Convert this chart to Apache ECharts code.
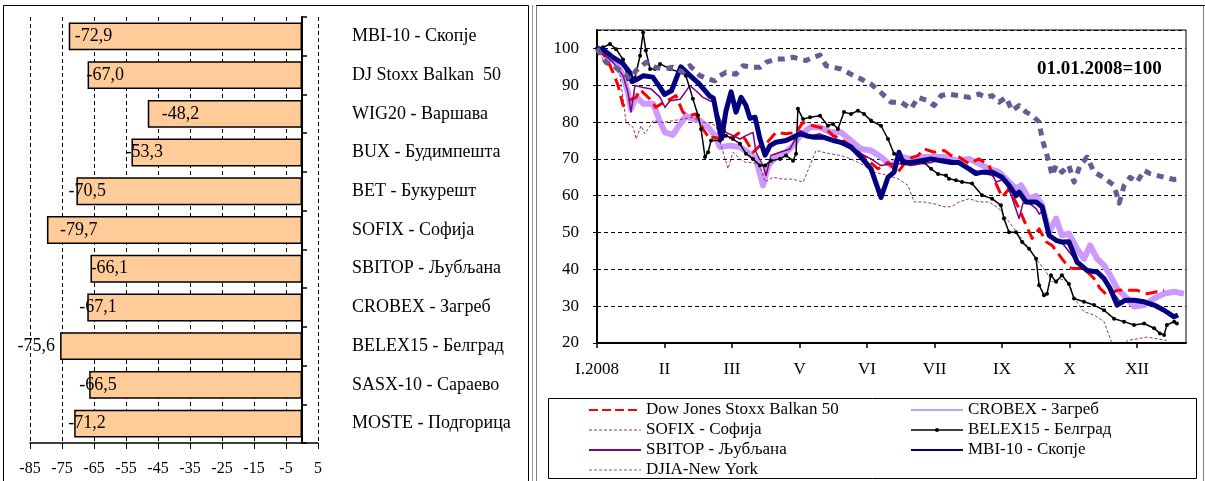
<!DOCTYPE html>
<html>
<head>
<meta charset="utf-8">
<script src="https://cdn.jsdelivr.net/npm/echarts@6/dist/echarts.min.js"></script>
<style>
html,body{margin:0;padding:0;background:#fff;}
#chart{width:1205px;height:481px;}
</style>
</head>
<body>
<div id="chart"></div>
<script>
// ---------- Left panel: change in 2008 (%) ----------
const barCategories = ['MBI-10 - Скопје','DJ Stoxx Balkan  50','WIG20 - Варшава','BUX - Будимпешта','BET - Букурешт','SOFIX - Софија','SBITOP - Љубљана','CROBEX - Загреб','BELEX15 - Белград','SASX-10 - Сараево','MOSTE - Подгорица'];
const barValues = [-72.9,-67.0,-48.2,-53.3,-70.5,-79.7,-66.1,-67.1,-75.6,-66.5,-71.2];

// ---------- Right panel: indices, 01.01.2008 = 100 (x = trading day) ----------
const monthTicks = ['I.2008','II','III','V','VI','VII','IX','X','XII'];

const djStoxxBalkan = [[0,100],[3.9,97.6],[6.9,93.5],[9,90],[11.2,84.5],[14.2,86],[16.8,86.7],[18.5,88.8],[22.8,86.2],[25.3,84],[28.4,85.3],[31.4,86.2],[33.9,87.2],[36.9,82.7],[39.9,81.8],[42.5,82.2],[45.5,78.1],[48.5,75.4],[49.8,75.9],[54.1,75.4],[58.4,75.9],[61.4,77.2],[64,75],[67,71.8],[70,73.6],[72.6,74.1],[76.9,77.2],[81.2,76.8],[85.5,77.2],[88.5,79.9],[92.8,79],[98.4,78.1],[101.4,76.3],[104.8,75.4],[109.1,73.6],[114.7,70.5],[120.7,67.3],[125,69],[129.3,66.4],[133.6,70],[137.9,70.9],[140.5,72.7],[144.8,71.8],[149.1,72.3],[152.1,70.9],[155.5,70.5],[159.8,68.7],[164.1,70],[168.4,68.2],[171.4,63.3],[174,59.6],[177,61.9],[181.3,56.5],[184.3,52],[186.9,48.4],[189.9,51],[192.9,47.5],[195.5,46.5],[199.7,42.9],[202.7,40.5],[204.9,40.2],[209.2,40.2],[213.5,37.5],[216.1,34.8],[219.1,33],[223.4,34.3],[227.7,34.3],[232,34.3],[236.3,33.4],[240.5,33.9],[243.6,34.3]];

const crobex = [[0,100],[2.6,99.4],[3.9,98],[8.2,96.2],[11.2,92.6],[13.3,88],[14.6,83.5],[16.8,87],[19.8,85],[24.1,85],[27.1,80],[29.2,77.2],[32.6,76.5],[35.7,79.5],[38.2,81.7],[41.2,80.8],[44.2,80.4],[47.7,78.6],[50.7,76.3],[52.8,73.2],[57.1,73.6],[61.4,73.2],[65.7,71.4],[68.3,70],[71.3,62.8],[73.5,68.2],[76.9,70.5],[81.2,71.8],[84.2,73.6],[87.2,76.3],[91.5,78.6],[95.8,78.6],[100.1,77.2],[104.8,77.2],[109.1,75],[113.4,72.7],[117.7,72.3],[122,70.5],[126.3,68.2],[130.6,70.5],[134.9,70],[139.2,70.5],[143.5,70.5],[149.1,70.5],[151.2,70],[155.5,69.5],[159.8,70],[164.1,68.7],[168.4,67.3],[172.7,66.4],[177,63.7],[180,61.9],[182.1,62.8],[185.6,59.2],[188.6,60],[191.2,57.4],[194.2,50.1],[197.2,53.8],[199.7,49.2],[202.7,49.7],[206.2,45.6],[209.2,42.9],[211.8,46.5],[214.8,42.9],[217.8,41.1],[220.4,38.4],[223.4,34.8],[227.7,32.1],[230.7,29.9],[235,30.3],[239.3,32.1],[243.6,33.4],[247.9,33.9],[252.1,33.4]];

const sofix = [[0,100],[2.6,97],[6.9,95.3],[9.9,92.6],[12.5,80],[15.5,78.6],[16.8,75.4],[18.9,79],[20.6,76.8],[22.8,79],[24.1,80.4],[28.4,79.9],[32.6,80.4],[36.9,80.8],[41.2,81.3],[44.2,79.9],[47.7,79.9],[51.1,79],[53.3,73.6],[56.3,67.3],[58.4,71.8],[61.4,70],[64,69],[67,69],[70,68.2],[72.2,63.7],[75.6,65],[79.9,64.5],[84.2,64.5],[88.5,63.7],[91.5,68.2],[94.1,72.3],[97.1,71.8],[100.1,71.4],[104.8,70.9],[109.1,70],[114.7,68.2],[119,66.4],[125,65.5],[129.3,64.6],[133.6,62.8],[136.2,58.3],[140.5,58.3],[144.8,57.8],[149.1,57],[152.1,57],[155.5,58.3],[159.8,59.2],[164.1,58.3],[168.4,58.3],[172.7,56.5],[177,52.9],[181.3,49.2],[185.6,45.6],[188.6,42.9],[192.9,39.3],[195.5,36.6],[198.5,37.5],[202.7,36.6],[204.9,32.1],[209.2,28.5],[213.5,27.6],[217.8,25.8],[220.4,21.3],[222.1,18.5],[224,18],[226,19.5],[228,20.7],[236.3,21.6],[244.8,20.7]];

const belex15 = [[0,100],[2.6,100.3],[5.6,101.2],[8.2,99.8],[11.2,97],[13.3,91.7],[16.3,92],[18.5,98],[19.8,104.3],[21,99.4],[22.8,94.4],[24.9,94.4],[27.1,95.8],[31.4,94.4],[35.7,93.5],[38.2,92.6],[41.2,86.3],[43.4,81.8],[44.7,78.1],[46.4,70.5],[47.7,71.8],[49,75],[52.8,75],[55.4,76.3],[58.4,75.4],[61.4,74.1],[64,71.4],[67,70],[70,68.2],[72.2,68.2],[74.7,69.5],[78.6,70],[81.2,70.9],[84.2,69.5],[85.5,71.4],[86.3,83.6],[88.5,80.8],[91.5,81.3],[95.8,81.7],[99.2,79],[101.4,79.5],[103.5,78.1],[106.1,82.7],[109.1,82.2],[112.1,83.1],[114.7,82.2],[117.7,80.4],[122,79],[125,75.4],[127.6,71.4],[131.9,69.5],[136.2,69],[140.5,69],[143.5,67.3],[146.5,65.9],[149.9,65.5],[151.2,64.6],[154.2,64.2],[156.8,63.7],[161.1,63.3],[165.4,60.1],[169.7,59.2],[173.5,57.4],[174.8,53.8],[177,50.1],[180,50.1],[182.6,47.4],[185.6,45.6],[188.6,42.9],[189.9,35.7],[192,33],[193.3,33.4],[195,38.4],[197.2,36.6],[199.7,38.4],[202.7,36],[204.9,32.1],[209.2,31.2],[213.5,30.3],[217.8,28.9],[222.1,26.6],[226.4,25.8],[230.7,24.9],[235,25.3],[239.3,24],[241.8,22.6],[243.6,22.2],[244.8,24.9],[247.9,25.8],[249.1,25.3]];

const sbitop = [[0,100],[6.9,96.2],[11.2,92.6],[13.3,88],[14.6,82.7],[16.3,89.9],[19.8,89.4],[23.2,89],[27.1,86.7],[29.2,84],[31.4,85.8],[35.7,86.2],[39.9,89.9],[42.5,88.5],[45.5,86.7],[48.5,85.8],[49.8,85.5],[52.8,80.8],[55.4,77.2],[58.4,76.3],[61.4,75.4],[64,76.3],[67,77.2],[68.3,71.8],[71.3,68.2],[72.6,65.5],[74.7,70.9],[78.6,71.8],[82.9,72.7],[87.2,77.7],[91.5,76.3],[95.8,76.8],[100.1,75.4],[106.1,73.6],[112.1,71.8],[117.7,70],[122,68.2],[126.3,68.7],[130.6,68.7],[134.9,68.2],[139.2,68.7],[143.5,69],[149.1,70],[155.5,69.2],[160,67.5],[165,66.2],[170,65.5],[171.4,63.7],[175,64.5],[178,60],[181.3,53.8],[183,58],[186,57.8],[188.6,56.5],[190,55],[192,56.5],[195,48.5],[200,47],[205,43],[210,39.5],[215,39],[220,35],[225,31],[230,31.4],[236,31],[242,29.5],[247,27.5]];

const mbi10 = [[0,100],[3,99.5],[7,97.5],[11,96],[14,93.5],[15,91],[17,91.5],[20,92.6],[24,92.2],[27,89.5],[29,87.5],[32,88.5],[36,95],[40,92.6],[44,90.3],[48.5,87],[50,86.5],[52,80],[53.5,75.5],[55.4,83],[57.6,88.2],[59.7,82.7],[61.9,86.7],[64,84.5],[65.7,81],[67.9,81.3],[70,75.4],[72.2,71],[74.3,73.6],[76.9,74.5],[81.2,75],[84.2,75.9],[87.2,76.8],[89.8,76.3],[92.8,75.9],[97.1,75.9],[101.4,75],[104.8,74.5],[109.1,73.2],[113.4,70.5],[117.7,67.3],[122,59.5],[125,65],[127.6,66.4],[129.7,71.8],[131.4,69],[134.9,69],[139.2,69.5],[143.5,70],[147.8,69.5],[152.1,69],[155.5,69],[159.8,67.3],[162.8,66],[165.4,66.4],[169.7,66.4],[174,65],[177,62.8],[180,60],[181.3,61],[184.3,58.3],[188.6,58.3],[191.2,57],[194.2,49.2],[197.2,47.9],[199.7,47.4],[202.7,47.5],[206.2,42],[210.5,39.7],[214.8,39.3],[217.8,37.5],[220.4,34.8],[223.4,30.3],[226.8,31.6],[230.7,31.6],[235,31.2],[239.3,30.3],[243.6,28.9],[247.9,27.1],[249.6,27.6]];

const djia = [[0,100],[3.9,96.2],[6.9,95.3],[11.2,93.5],[14.2,91.7],[16.8,94],[21,96.2],[24.9,94.9],[28.4,94.4],[32.6,94.9],[36.9,93.5],[39.9,95.3],[44.2,92.6],[47.7,91.7],[50.7,91.2],[52.8,92.6],[55.4,93.5],[59.7,93],[62.7,95.3],[67,94.9],[70,94.9],[72.6,96.2],[76.9,97.1],[79.9,97.1],[84.2,97.6],[87.2,97.1],[89.8,96.7],[92.8,97.6],[95.8,98.2],[98.4,95.3],[101.4,94.9],[104.8,94.4],[109.1,93],[113.4,91.7],[117.7,90.3],[122,88],[126.3,85.4],[130.6,85.4],[134.9,83.6],[137.9,86.7],[142.2,85.8],[144.8,84.5],[147.8,87.2],[150.8,87.6],[155.5,87.2],[159.8,86.7],[164.1,87.6],[167.1,86.7],[169.7,87.2],[172.7,85.4],[175.7,86.7],[178.3,83.1],[181.3,84.5],[184.3,82.7],[186.9,81.8],[189.9,80],[191.2,75.4],[192.9,71.8],[194.2,69],[195.5,65.5],[197.2,68.2],[199.7,66.4],[202.7,68.2],[204.9,63.7],[207.5,68.2],[210.5,70.5],[213.5,66.4],[216.1,65.5],[219.1,64.2],[222.1,62.8],[224.3,58],[226.4,62.8],[229,65],[232,63.7],[235,66.9],[237.5,66],[240.5,65.5],[243.6,65],[247.9,64.4],[250.4,64.5]];

// label nudges for the bar value labels (layout only)
const barLabelShift = [6,-1,14,-6,-8,13,0,-8,null,-10,-6];

const SERIF = 'Liberation Serif';
const chart = echarts.init(document.getElementById('chart'), null, {renderer:'canvas'});

const barData = barValues.map((v,i) => {
  const s = barLabelShift[i];
  return {
    value: v,
    label: s === null ? {position:'left', distance:5} : {position:'insideLeft', distance:0, offset:[s,0]}
  };
});

function lineSeries(name, data, color, width, type, z, extra) {
  return Object.assign({
    name, type:'line', xAxisIndex:1, yAxisIndex:1, data,
    symbol:'none', showSymbol:false, smooth:false, clip:true, z,
    lineStyle:{color, width, type, cap:'butt', join:'round'},
    itemStyle:{color},
    emphasis:{disabled:true}
  }, extra || {});
}

const legendText = {fontFamily:SERIF, fontSize:17, color:'#000', lineHeight:20};
const noMark = {color:'rgba(0,0,0,0)', borderColor:'rgba(0,0,0,0)', borderWidth:0, opacity:0};

const option = {
  animation:false,
  backgroundColor:'#fff',
  grid:[
    {left:30, right:887, top:17, bottom:38, show:false},
    {left:597, right:19, top:30, bottom:138, show:true, borderColor:'#000', borderWidth:1}
  ],
  xAxis:[
    {gridIndex:0, type:'value', min:-85, max:5, interval:10,
     axisLine:{show:true, onZero:false, lineStyle:{color:'#000', width:1.5}},
     axisTick:{show:true, length:6, lineStyle:{color:'#000'}},
     axisLabel:{fontFamily:SERIF, fontSize:16, color:'#000', margin:18},
     splitLine:{show:true, lineStyle:{color:'#000', type:[4,3], width:1}}},
    {gridIndex:1, type:'value', min:0, max:253, interval:29,
     axisLine:{show:true, onZero:false, lineStyle:{color:'#000', width:2}},
     axisTick:{show:true, length:5, lineStyle:{color:'#000', width:1.5}},
     axisLabel:{fontFamily:SERIF, fontSize:17, color:'#000', margin:18, showMaxLabel:false,
       formatter:v => { const i = Math.round(v/29); return (v % 29 === 0 && monthTicks[i]) ? monthTicks[i] : ''; }},
     splitLine:{show:false}}
  ],
  yAxis:[
    {gridIndex:0, type:'category', data:barCategories, inverse:true, position:'right',
     axisLine:{show:true, onZero:true, lineStyle:{color:'#000', width:2}},
     axisTick:{show:true, length:5, lineStyle:{color:'#000', width:1.5}},
     axisLabel:{fontFamily:SERIF, fontSize:18, color:'#000', margin:34, align:'left'},
     splitLine:{show:false}},
    {gridIndex:1, type:'value', min:20, max:105, interval:10,
     axisLine:{show:true, lineStyle:{color:'#000', width:2}},
     axisTick:{show:true, length:4, lineStyle:{color:'#000'}},
     axisLabel:{fontFamily:SERIF, fontSize:17, color:'#000', margin:18, showMaxLabel:false,
       formatter:v => (v > 100 ? '' : String(v))},
     splitLine:{show:true, lineStyle:{color:'#000', type:[4,3], width:1}}}
  ],
  legend:[
    {orient:'vertical', left:588, top:400, padding:0, itemGap:0, itemWidth:52, itemHeight:5,
     textStyle:legendText, selectedMode:false,
     data:[
       {name:'Dow Jones Stoxx Balkan 50', lineStyle:{width:2, type:[9,4]}, itemStyle:noMark},
       {name:'SOFIX - Софија', lineStyle:{width:1, type:[3,2]}, itemStyle:noMark},
       {name:'SBITOP - Љубљана', lineStyle:{width:2}, itemStyle:noMark},
       {name:'DJIA-New York', lineStyle:{width:1, type:[3,2]}, itemStyle:noMark}
     ]},
    {orient:'vertical', left:910, top:400, padding:0, itemGap:0, itemWidth:52, itemHeight:5,
     textStyle:legendText, selectedMode:false,
     data:[
       {name:'CROBEX - Загреб', lineStyle:{width:2}, itemStyle:noMark},
       {name:'BELEX15 - Белград', lineStyle:{width:1.5}},
       {name:'MBI-10 - Скопје', lineStyle:{width:2}, itemStyle:noMark}
     ]}
  ],
  graphic:[
    {type:'rect', shape:{x:3.5, y:5.5, width:525, height:480}, style:{fill:'none', stroke:'#000', lineWidth:1}, silent:true},
    {type:'line', shape:{x1:532.5, y1:5, x2:532.5, y2:481}, style:{stroke:'#9a9a9a', lineWidth:1}, silent:true},
    {type:'rect', shape:{x:536.5, y:5.5, width:667, height:480}, style:{fill:'none', stroke:'#7f7f7f', lineWidth:1}, silent:true},
    {type:'line', shape:{x1:536, y1:5.5, x2:1205, y2:5.5}, style:{stroke:'#000', lineWidth:1}, silent:true},
    {type:'rect', shape:{x:548.5, y:398.5, width:648, height:80}, style:{fill:'none', stroke:'#000', lineWidth:1}, silent:true, z:-1},
    {type:'text', left:1037, top:60, style:{text:'01.01.2008=100', font:'bold 19px "Liberation Serif"', fill:'#000'}, silent:true}
  ],
  series:[
    {type:'bar', xAxisIndex:0, yAxisIndex:0, data:barData, barCategoryGap:'28%',
     itemStyle:{color:'#FFCC99', borderColor:'#000', borderWidth:1.5},
     label:{show:true, fontFamily:SERIF, fontSize:18, color:'#000',
       formatter:p => p.value.toFixed(1).replace('.', ',')},
     emphasis:{disabled:true}},
    lineSeries('CROBEX - Загреб', crobex, '#CC99FF', 6, 'solid', 2),
    lineSeries('SOFIX - Софија', sofix, '#993366', 1, [3,2], 3),
    lineSeries('Dow Jones Stoxx Balkan 50', djStoxxBalkan, '#FF0000', 3, [12,6], 4),
    lineSeries('SBITOP - Љубљана', sbitop, '#800080', 1.5, 'solid', 5),
    lineSeries('BELEX15 - Белград', belex15, '#000000', 1.5, 'solid', 6,
      {symbol:'circle', symbolSize:4, showSymbol:true}),
    lineSeries('MBI-10 - Скопје', mbi10, '#000080', 5, 'solid', 7),
    lineSeries('DJIA-New York', djia, '#6A5A94', 5, [7,6], 8)
  ]
};
chart.setOption(option);
</script>
</body>
</html>
